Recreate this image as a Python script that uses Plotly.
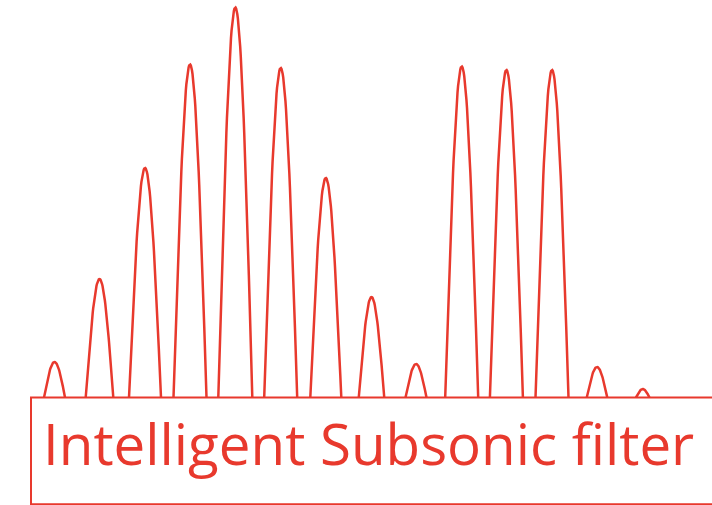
import numpy as np
import plotly.graph_objects as go

# Peak data (x position of center, base width, height above baseline)
centers = [54.5, 99.5, 145, 190, 235.3, 280.7, 325.8, 371.5, 416, 461.7, 506.4, 552, 597, 642.7]
widths = [21, 27.6, 32, 33, 34, 33, 31, 25.5, 21, 33, 33, 33, 20.5, 13.5]
heights = [35.5, 118.5, 229.5, 333, 390, 329.5, 219.5, 100.5, 33.5, 331, 327.5, 327.5, 30.5, 8.5]

label = "Intelligent Subsonic filter"
red = "#e8392d"

xs, ys = [], []
for c, w, h in zip(centers, widths, heights):
    t = np.linspace(0, 1, 60)
    xs.extend(list(c - w / 2 + w * t))
    ys.extend(list(h * np.sin(np.pi * t)))
    xs.append(None)
    ys.append(None)

fig = go.Figure()
fig.add_trace(go.Scatter(x=xs, y=ys, mode="lines",
                         line=dict(color=red, width=2.5),
                         hoverinfo="skip", showlegend=False))

# Box below baseline
fig.add_shape(type="rect", x0=31, x1=740, y0=-106.8, y1=0,
              line=dict(color=red, width=2), fillcolor="rgba(0,0,0,0)", layer="above")

fig.add_annotation(x=41, y=-46, xref="x", yref="y", text=label, showarrow=False,
                   xanchor="left", yanchor="middle",
                   font=dict(family="Open Sans", size=56.5, color=red))

fig.update_layout(width=712, height=505, margin=dict(l=0, r=0, t=0, b=0),
                  paper_bgcolor="white", plot_bgcolor="white",
                  xaxis=dict(range=[0, 712], visible=False, fixedrange=True),
                  yaxis=dict(range=[-107.5, 397.5], visible=False, fixedrange=True))

fig.write_html("out.html", config={"displayModeBar": False},
               post_script="document.body.style.margin='0';")
